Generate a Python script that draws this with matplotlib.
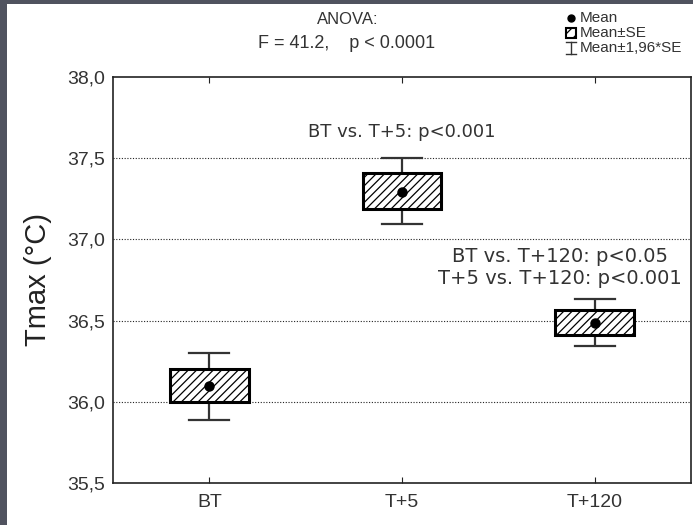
import matplotlib
matplotlib.use("Agg")
import matplotlib.pyplot as plt
from matplotlib.patches import Rectangle
from matplotlib.lines import Line2D

plt.rcParams['font.family'] = ['Liberation Sans', 'DejaVu Sans']
plt.rcParams['hatch.linewidth'] = 0.9

categories = ["BT", "T+5", "T+120"]
means = [36.095, 37.29, 36.486]
se_low = [36.0, 37.186, 36.41]
se_high = [36.203, 37.406, 36.563]
ci_low = [35.89, 37.094, 36.345]
ci_high = [36.30, 37.50, 36.63]
yticks = [35.5, 36.0, 36.5, 37.0, 37.5, 38.0]
ytick_labels = ["35,5", "36,0", "36,5", "37,0", "37,5", "38,0"]

W, H = 693, 525
fig = plt.figure(figsize=(W / 100, H / 100), dpi=100)
fig.patch.set_facecolor("#50535f")
fig.add_artist(Rectangle((7 / W, 0), 1 - 7 / W, 1 - 4 / H, transform=fig.transFigure,
                         facecolor="white", edgecolor="none", zorder=0))

ax = fig.add_axes([113 / W, (H - 483) / H, (691 - 113) / W, (483 - 77) / H])
ax.set_xlim(0.5, 3.5)
ax.set_ylim(35.5, 38.0)

for y in [36.0, 36.5, 37.0, 37.5]:
    ax.axhline(y, color="#222222", linestyle=(0, (1, 1.5)), linewidth=0.8, zorder=1)

xs = [1, 2, 3]
bw = 0.205
cw = 0.103
for x, m, sl, sh, cl, ch in zip(xs, means, se_low, se_high, ci_low, ci_high):
    ax.plot([x, x], [cl, sl], color="#333333", lw=1.6, zorder=2, solid_capstyle="butt")
    ax.plot([x, x], [sh, ch], color="#333333", lw=1.6, zorder=2, solid_capstyle="butt")
    ax.plot([x - cw, x + cw], [cl, cl], color="#333333", lw=1.6, zorder=2)
    ax.plot([x - cw, x + cw], [ch, ch], color="#333333", lw=1.6, zorder=2)
    ax.add_patch(Rectangle((x - bw, sl), 2 * bw, sh - sl, facecolor="white",
                           edgecolor="black", hatch="////", lw=2.2, zorder=3))
    ax.plot([x], [m], "o", color="black", ms=6.5, zorder=4)

ax.set_xticks(xs)
ax.set_xticklabels(categories, fontsize=14)
ax.set_yticks(yticks)
ax.set_yticklabels(ytick_labels, fontsize=14, color="#333333")
ax.tick_params(axis="x", direction="in", length=4, top=True, pad=8, colors="#222222",
               labelcolor="#333333")
ax.tick_params(axis="y", length=0, pad=6)
for s in ax.spines.values():
    s.set_linewidth(1.2)
    s.set_color("#222222")
ax.set_ylabel("Tmax (°C)", fontsize=21, color="#222222", labelpad=11)

ann_font = ['DejaVu Sans']
ax.text(2, 37.66, "BT vs. T+5: p<0.001", ha="center", va="center", fontsize=13,
        family=ann_font, color="#333333")
ax.text(2.82, 36.895, "BT vs. T+120: p<0.05", ha="center", va="center", fontsize=14,
        family=ann_font, color="#333333")
ax.text(2.82, 36.76, "T+5 vs. T+120: p<0.001", ha="center", va="center", fontsize=14,
        family=ann_font, color="#333333")

fig.text(348 / W, 1 - 19 / H, "ANOVA:", ha="center", va="center", fontsize=12, color="#333333")
fig.text(347 / W, 1 - 43 / H, "F = 41.2,    p < 0.0001", ha="center", va="center", fontsize=13,
         color="#333333")

# legend
lx = 571 / W
fig.add_artist(Line2D([lx], [1 - 18 / H], marker="o", color="black", ms=5,
                      transform=fig.transFigure))
fig.text(580 / W, 1 - 18 / H, "Mean", ha="left", va="center", fontsize=11, color="#333333")
fig.add_artist(Rectangle((566 / W, 1 - 38 / H), 10 / W, 10 / H, transform=fig.transFigure,
                         facecolor="white", edgecolor="black", hatch="///", lw=1.5))
fig.text(580 / W, 1 - 33 / H, "Mean±SE", ha="left", va="center", fontsize=11, color="#333333")
fig.add_artist(Line2D([lx, lx], [1 - 42 / H, 1 - 54 / H], color="#333333", lw=1,
                      transform=fig.transFigure))
fig.add_artist(Line2D([lx - 5 / W, lx + 5 / W], [1 - 42 / H, 1 - 42 / H], color="#333333", lw=1,
                      transform=fig.transFigure))
fig.add_artist(Line2D([lx - 5 / W, lx + 5 / W], [1 - 54 / H, 1 - 54 / H], color="#333333", lw=1,
                      transform=fig.transFigure))
fig.text(580 / W, 1 - 48 / H, "Mean±1,96*SE", ha="left", va="center", fontsize=11, color="#333333")

fig.savefig("out.png", dpi=100, facecolor=fig.get_facecolor())
